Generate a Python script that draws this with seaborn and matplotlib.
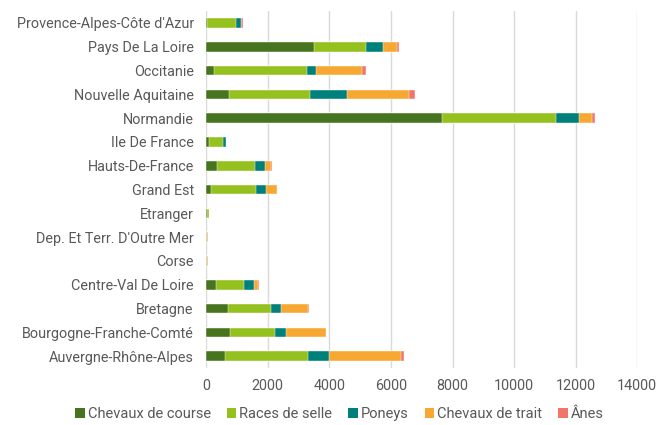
import matplotlib
matplotlib.use("Agg")
import matplotlib.pyplot as plt
import seaborn as sns
import numpy as np
import pandas as pd
from matplotlib.patches import Patch

# regions, top to bottom as shown
regions = [
    "Provence-Alpes-Côte d'Azur", "Pays De La Loire", "Occitanie",
    "Nouvelle Aquitaine", "Normandie", "Ile De France", "Hauts-De-France",
    "Grand Est", "Etranger", "Dep. Et Terr. D'Outre Mer", "Corse",
    "Centre-Val De Loire", "Bretagne", "Bourgogne-Franche-Comté",
    "Auvergne-Rhône-Alpes",
]

course = [10, 3490, 250, 730, 7650, 75, 360, 150, 10, 5, 5, 300, 690, 770, 600]
selle = [965, 1710, 3020, 2650, 3700, 455, 1210, 1450, 70, 25, 25, 930, 1420, 1450, 2690]
poneys = [140, 530, 300, 1180, 760, 95, 335, 325, 5, 5, 5, 315, 305, 370, 685]
trait = [20, 475, 1485, 2035, 430, 15, 205, 370, 15, 5, 5, 140, 900, 1290, 2360]
anes = [65, 45, 140, 175, 75, 5, 10, 10, 2, 2, 2, 40, 10, 15, 85]

series_names = ["Chevaux de course", "Races de selle", "Poneys", "Chevaux de trait", "Ânes"]
colors = ["#47751f", "#95c11f", "#00807a", "#f7a833", "#f0766b"]

df = pd.DataFrame({
    "region": regions,
    "Chevaux de course": course,
    "Races de selle": selle,
    "Poneys": poneys,
    "Chevaux de trait": trait,
    "Ânes": anes,
})
cum = df[series_names].cumsum(axis=1)

sns.set_theme(style="white")
plt.rcParams["font.family"] = ["Roboto", "DejaVu Sans"]

fig, ax = plt.subplots(figsize=(6.59, 4.25), dpi=100)
fig.subplots_adjust(left=0.313, right=0.967, top=0.974, bottom=0.134)

# draw cumulative totals from the outside in so each segment shows
for name, col in reversed(list(zip(series_names, colors))):
    sns.barplot(x=cum[name], y=df["region"], orient="h", color=col,
                width=0.4, ax=ax, edgecolor="white", linewidth=0.3,
                saturation=1)

ax.set_xlim(0, 14000)
ax.set_xticks(np.arange(0, 14001, 2000))
ax.set_xlabel("")
ax.set_ylabel("")
ax.grid(axis="x", color="#d9d9d9", linewidth=1)
ax.set_axisbelow(True)
for s in ax.spines.values():
    s.set_visible(False)
ax.tick_params(axis="both", length=0, colors="#595959", labelsize=10.4)
ax.tick_params(axis="y", pad=9)
ax.tick_params(axis="x", pad=8)

handles = [Patch(facecolor=c, edgecolor="none") for c in colors]
fig.legend(handles, series_names, loc="lower center", bbox_to_anchor=(0.515, -0.022),
           ncol=5, frameon=False, handlelength=0.65, handleheight=0.65,
           handletextpad=0.2, columnspacing=1.1,
           prop={"size": 10.5}, labelcolor="#595959")

fig.savefig("out.png", dpi=100)
